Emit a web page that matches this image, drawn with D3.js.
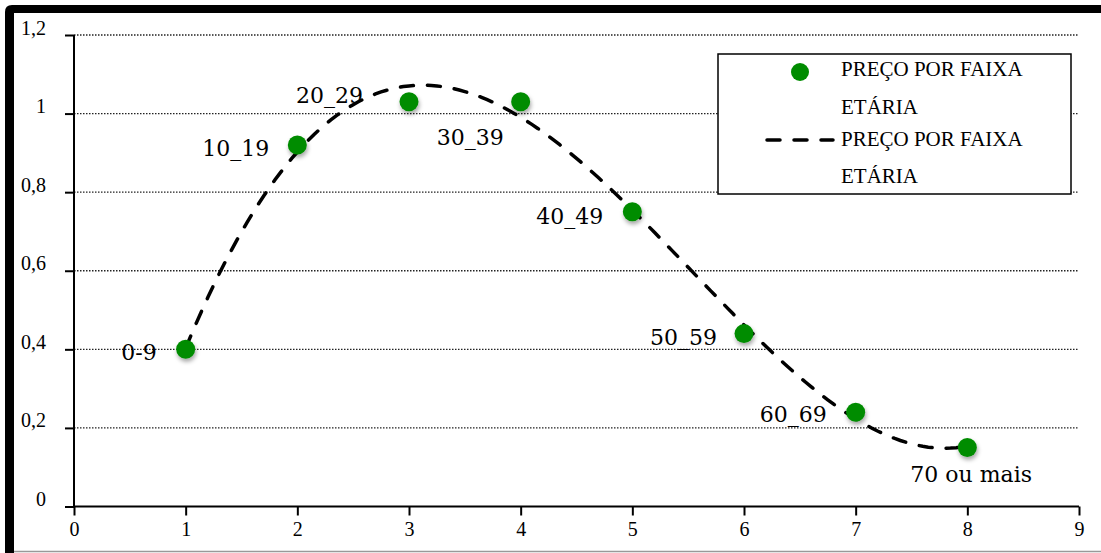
<!DOCTYPE html>
<html><head><meta charset="utf-8">
<script src="https://cdn.jsdelivr.net/npm/d3@7"></script>
<style>html,body{margin:0;padding:0;background:#fff;}svg{display:block;}</style>
</head><body>
<script>
// ---- data ----
const ageIndex = [1, 2, 3, 4, 5, 6, 7, 8];
const categories = ["0-9", "10_19", "20_29", "30_39", "40_49", "50_59", "60_69", "70 ou mais"];
const prices = [0.40, 0.92, 1.03, 1.03, 0.75, 0.44, 0.24, 0.15];
const yTickValues = [0, 0.2, 0.4, 0.6, 0.8, 1.0, 1.2];
const yTickLabels = ["0", "0,2", "0,4", "0,6", "0,8", "1", "1,2"];
const xTickValues = [0, 1, 2, 3, 4, 5, 6, 7, 8, 9];
const seriesName = ["PREÇO POR FAIXA", "ETÁRIA"];

// ---- layout (not data) ----
const W = 1101, H = 553;
const labelLayout = [
  {anchor: "end", dx: -29, dy: 11},
  {anchor: "end", dx: -28, dy: 11},
  {anchor: "end", dx: -46, dy: 1},
  {anchor: "start", dx: -84, dy: 43},
  {anchor: "end", dx: -29, dy: 12},
  {anchor: "end", dx: -27, dy: 11},
  {anchor: "end", dx: -29, dy: 10},
  {anchor: "start", dx: -57, dy: 34}
];

const svg = d3.select("body").append("svg").attr("width", W).attr("height", H);
const defs = svg.append("defs");
const f = defs.append("filter").attr("id", "sh").attr("x", "-50%").attr("y", "-50%").attr("width", "200%").attr("height", "200%");
f.append("feDropShadow").attr("dx", 1).attr("dy", 3).attr("stdDeviation", 2).attr("flood-color", "#000").attr("flood-opacity", 0.35);

svg.append("rect").attr("width", W).attr("height", H).attr("fill", "#fff");

// frame
svg.append("path").attr("d", "M5,553 L5,12 Q5,5 12,5 L1101,5 L1101,13 L14,13 L14,553 Z").attr("fill", "#000");
svg.append("line").attr("x1", 14).attr("x2", W).attr("y1", 551.5).attr("y2", 551.5).attr("stroke", "#999").attr("stroke-width", 1.5);

const x = d3.scaleLinear().domain([0, 9]).range([74, 1079]);
const y = d3.scaleLinear().domain([0, 1.2]).range([506.5, 35]);

// gridlines
svg.append("g").selectAll("line").data(yTickValues.filter(v => v > 0)).join("line")
  .attr("x1", x(0)).attr("x2", x(9)).attr("y1", d => y(d)).attr("y2", d => y(d))
  .attr("stroke", "#222").attr("stroke-width", 1.3).attr("stroke-dasharray", "1.5 1.5");

// axes
const yAxis = d3.axisLeft(y).tickValues(yTickValues).tickSize(9).tickPadding(19)
  .tickFormat((d, i) => yTickLabels[i]);
const gy = svg.append("g").attr("transform", `translate(${x(0)},0)`).call(yAxis);
gy.attr("font-family", null).attr("font-size", null);
gy.select(".domain").attr("stroke", "#000").attr("stroke-width", 2).attr("d", `M0,${y(1.2)}V${y(0)}`);
gy.selectAll(".tick line").attr("stroke", "#000").attr("stroke-width", 2);
gy.selectAll(".tick text").style("font-family", "'Liberation Serif', serif").style("font-size", "20px").attr("fill", "#000")
  .attr("dy", "-0.05em");

const xAxis = d3.axisBottom(x).tickValues(xTickValues).tickSize(9).tickPadding(6).tickFormat(d3.format("d"));
const gx = svg.append("g").attr("transform", `translate(0,${y(0)})`).call(xAxis);
gx.attr("font-family", null).attr("font-size", null);
gx.select(".domain").attr("stroke", "#000").attr("stroke-width", 2).attr("d", `M${x(0)},0H${x(9)}`);
gx.selectAll(".tick line").attr("stroke", "#000").attr("stroke-width", 2);
gx.selectAll(".tick text").style("font-family", "'Liberation Serif', serif").style("font-size", "20px").attr("fill", "#000");

// polynomial trendline (least squares fit of the data)
function polyfit(xs, ys, deg) {
  const n = deg + 1;
  const A = Array.from({length: n}, () => new Array(n + 1).fill(0));
  for (let r = 0; r < n; r++) {
    for (let c = 0; c < n; c++) A[r][c] = d3.sum(xs, v => Math.pow(v, r + c));
    A[r][n] = d3.sum(xs.map((v, i) => Math.pow(v, r) * ys[i]));
  }
  for (let i = 0; i < n; i++) {
    let p = i;
    for (let k = i + 1; k < n; k++) if (Math.abs(A[k][i]) > Math.abs(A[p][i])) p = k;
    [A[i], A[p]] = [A[p], A[i]];
    for (let k = 0; k < n; k++) if (k !== i) {
      const fct = A[k][i] / A[i][i];
      for (let c = i; c <= n; c++) A[k][c] -= fct * A[i][c];
    }
  }
  return A.map((row, i) => row[n] / row[i]);
}
const coef = polyfit(ageIndex, prices, 4);
const fx = t => coef.reduce((s, c, i) => s + c * Math.pow(t, i), 0);
const trendPts = d3.range(1, 8.0001, 0.05).map(t => [t, fx(t)]);
svg.append("path").datum(trendPts)
  .attr("d", d3.line().x(d => x(d[0])).y(d => y(d[1])))
  .attr("fill", "none").attr("stroke", "#000").attr("stroke-width", 3.5)
  .attr("stroke-dasharray", "13 14").attr("stroke-linecap", "round");

// points
svg.append("g").selectAll("circle").data(prices).join("circle")
  .attr("cx", (d, i) => x(ageIndex[i])).attr("cy", d => y(d)).attr("r", 9.5)
  .attr("fill", "#008c00").attr("filter", "url(#sh)");

// labels
svg.append("g").selectAll("text").data(categories).join("text")
  .attr("x", (d, i) => x(ageIndex[i]) + labelLayout[i].dx)
  .attr("y", (d, i) => y(prices[i]) + labelLayout[i].dy)
  .attr("text-anchor", (d, i) => labelLayout[i].anchor)
  .style("font-family", "'DejaVu Serif', serif").style("font-size", "22px").attr("fill", "#000")
  .text(d => d);

// legend
const lg = svg.append("g");
lg.append("rect").attr("x", 718).attr("y", 54).attr("width", 353).attr("height", 140)
  .attr("fill", "#fff").attr("stroke", "#000").attr("stroke-width", 1.5);
lg.append("circle").attr("cx", 800).attr("cy", 72).attr("r", 9).attr("fill", "#008c00");
lg.append("line").attr("x1", 767).attr("x2", 833).attr("y1", 140).attr("y2", 140)
  .attr("stroke", "#000").attr("stroke-width", 3.5).attr("stroke-dasharray", "13 14").attr("stroke-linecap", "round");
const lines = [seriesName[0], seriesName[1], seriesName[0], seriesName[1]];
const baselines = [76, 114, 146, 183];
lg.selectAll("text").data(lines).join("text")
  .attr("x", 841).attr("y", (d, i) => baselines[i])
  .style("font-family", "'Liberation Serif', serif").style("font-size", "21px").attr("fill", "#000")
  .text(d => d);
</script>
</body></html>
